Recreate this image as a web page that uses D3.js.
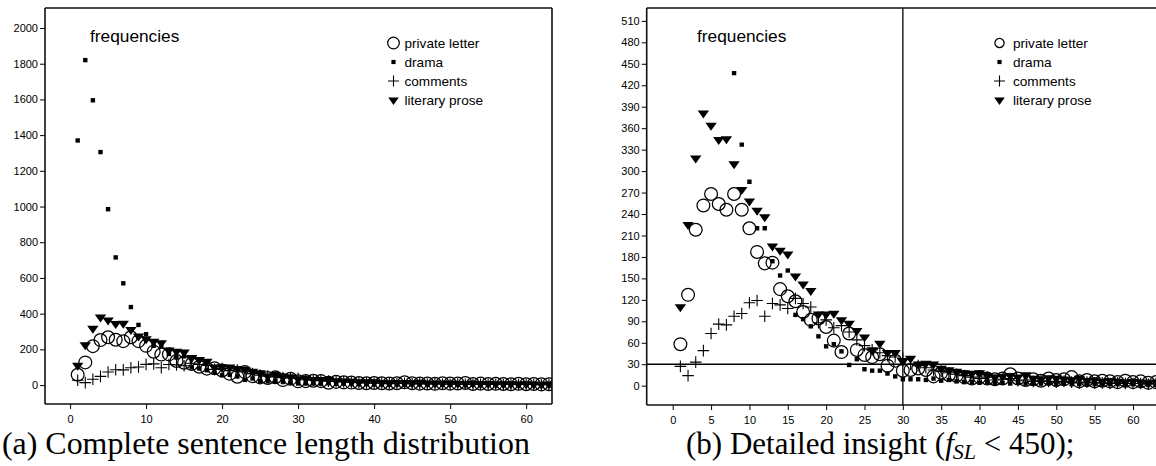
<!DOCTYPE html>
<html><head><meta charset="utf-8">
<script src="https://cdn.jsdelivr.net/npm/d3@7"></script>
<style>
html,body{margin:0;padding:0;background:#fff;}
svg{display:block;}
.tick text{font-family:"Liberation Sans",Arial,sans-serif;font-size:11px;fill:#000;}
</style></head>
<body>
<svg id="chart" width="1156" height="466"></svg>
<script>
// sentence lengths 1..65
const lengths = d3.range(1, 66);
const privateLetter = [58,127,218,252,268,254,246,268,246,220,187,171,172,135,125,118,103,92,94,82,63,47,73,50,43,40,44,28,35,21,22,24,22,13,
  18,15,14,12,10,12,10,9,10,16,10,8,9,7,10,8,9,12,6,8,6,7,6,5,7,5,6,4,5,4,4];
const drama = [1370,1820,1595,1305,985,715,570,437,337,285,220,220,174,154,161,99,93,83,69,55,58,48,29,37,23,21,21,17,13,9,9,9,8,10,
  7,8,6,5,5,4,5,4,4,3,4,3,3,3,3,2,3,2,2,2,2,2,2,2,1,2,1,1,1,1,1];
const comments = [27,14,33,49,73,86,85,97,101,116,119,97,115,113,108,122,115,110,88,92,81,84,75,64,56,50,46,42,40,38,30,28,25,22,
  20,18,16,14,12,10,12,8,9,10,7,8,6,7,6,5,6,5,4,5,4,4,3,4,3,3,3,2,3,2,2];
const literaryProse = [110,225,318,381,364,344,345,310,274,258,245,236,195,189,184,153,142,133,100,100,101,92,87,77,68,50,59,46,46,34,38,30,31,30,
  24,22,20,18,17,18,14,12,13,14,12,15,10,9,11,10,9,8,10,7,8,6,7,6,5,6,5,4,5,4,4];

const seriesNames = ["private letter","drama","comments","literary prose"];
const seriesKeys = ["circle","square","plus","triangle"];

const leftXTicks = [0,10,20,30,40,50,60];
const leftYTicks = [0,200,400,600,800,1000,1200,1400,1600,1800,2000];
const rightXTicks = [0,5,10,15,20,25,30,35,40,45,50,55,60];
const rightYTicks = d3.range(0, 511, 30);
const refLineX = 30, refLineY = 30;

const svg = d3.select("#chart");
const FONT = "'Liberation Sans', Arial, sans-serif";

function markerPath(kind, s) {
  if (kind === "circle") { const r = s; return `M${r},0A${r},${r} 0 1,1 ${-r},0A${r},${r} 0 1,1 ${r},0Z`; }
  if (kind === "square") { const h = s; return `M${-h},${-h}H${h}V${h}H${-h}Z`; }
  if (kind === "plus") { const h = s; return `M${-h},0H${h}M0,${-h}V${h}`; }
  if (kind === "triangle") { const w = s, hh = s*0.85; return `M${-w},${-hh*0.55}L${w},${-hh*0.55}L0,${hh*1.1}Z`; }
}
function markerStyle(sel, kind) {
  if (kind === "circle") sel.attr("fill","none").attr("stroke","#000").attr("stroke-width",1.25);
  else if (kind === "plus") sel.attr("fill","none").attr("stroke","#000").attr("stroke-width",1.1);
  else sel.attr("fill","#000").attr("stroke","none");
}
const sizes = {circle:6.4, square:2.2, plus:5.8, triangle:5.7};

function panel(cfg) {
  const x = d3.scaleLinear().domain(cfg.xDomain).range([cfg.left, cfg.right]);
  const y = d3.scaleLinear().domain(cfg.yDomain).range([cfg.bottom, cfg.top]);
  const g = svg.append("g");
  const clipId = "clip" + cfg.id;
  svg.append("clipPath").attr("id", clipId).append("rect")
    .attr("x", cfg.left).attr("y", cfg.top).attr("width", cfg.right - cfg.left).attr("height", cfg.bottom - cfg.top);

  // axes
  const xa = g.append("g").attr("transform", `translate(0,${cfg.bottom})`)
    .call(d3.axisBottom(x).tickValues(cfg.xTicks).tickSize(5).tickPadding(4).tickFormat(d3.format("d")));
  const ya = g.append("g").attr("transform", `translate(${cfg.left},0)`)
    .call(d3.axisLeft(y).tickValues(cfg.yTicks).tickSize(5).tickPadding(2).tickFormat(d3.format("d")));
  [xa, ya].forEach(a => { a.select(".domain").remove(); a.selectAll(".tick line").attr("stroke","#000").attr("stroke-width",1); });
  xa.selectAll("text").attr("dy","0.9em");

  // frame
  const fr = g.append("g").attr("stroke","#111").attr("stroke-width",1.6).attr("fill","none");
  fr.append("line").attr("x1",cfg.left).attr("x2",cfg.left).attr("y1",cfg.top).attr("y2",cfg.bottom);
  fr.append("line").attr("x1",cfg.left).attr("x2",cfg.right).attr("y1",cfg.bottom).attr("y2",cfg.bottom);
  fr.append("line").attr("x1",cfg.left).attr("x2",cfg.right).attr("y1",cfg.top).attr("y2",cfg.top);
  if (cfg.rightFrame) fr.append("line").attr("x1",cfg.right).attr("x2",cfg.right).attr("y1",cfg.top).attr("y2",cfg.bottom);

  // reference lines
  if (cfg.refLines) {
    const rl = g.append("g").attr("stroke","#000").attr("stroke-width",1.3);
    rl.append("line").attr("x1",x(refLineX)).attr("x2",x(refLineX)).attr("y1",cfg.top).attr("y2",cfg.bottom);
    rl.append("line").attr("x1",cfg.left).attr("x2",cfg.right).attr("y1",y(refLineY)).attr("y2",y(refLineY));
  }

  // data
  const all = [privateLetter, drama, comments, literaryProse];
  const dg = g.append("g").attr("clip-path", `url(#${clipId})`);
  all.forEach((vals, si) => {
    const kind = seriesKeys[si];
    const pts = lengths.map((l, i) => ({l, v: vals[i]})).filter(d => d.v <= cfg.yDomain[1] + 30);
    dg.append("g").selectAll("path").data(pts).join("path")
      .attr("transform", d => `translate(${x(d.l)},${y(d.v)})`)
      .attr("d", markerPath(kind, sizes[kind]))
      .call(markerStyle, kind);
  });

  // label
  g.append("text").attr("x", cfg.labelX).attr("y", 42).text("frequencies")
    .attr("font-family", FONT).attr("font-size", 17.3).attr("fill","#000");

  // legend
  const lg = g.append("g");
  seriesNames.forEach((n, i) => {
    const yy = 43 + i*19;
    const kind = seriesKeys[i];
    let s = sizes[kind];
    if (kind === "circle") s = cfg.legendCircle;
    if (kind === "square") s = 2.1;
    if (kind === "plus") s = 5.5;
    if (kind === "triangle") s = 5.3;
    lg.append("path").attr("transform", `translate(${cfg.legendX},${yy})`).attr("d", markerPath(kind, s)).call(markerStyle, kind);
    lg.append("text").attr("x", cfg.legendX + cfg.legendGap).attr("y", yy + 4.8).text(n)
      .attr("font-family", FONT).attr("font-size", 13.6).attr("fill","#000");
  });
  return {x, y};
}

panel({id:"a", left:45, right:552, top:8, bottom:404, xDomain:[-3.3, 63.4], yDomain:[-106, 2112],
  xTicks:leftXTicks, yTicks:leftYTicks, rightFrame:true, refLines:false, labelX:90,
  legendX:393.5, legendGap:11, legendCircle:5.8});
panel({id:"b", left:646.7, right:1156, top:8, bottom:405, xDomain:[-3.39, 63.0], yDomain:[-27, 528],
  xTicks:rightXTicks, yTicks:rightYTicks, rightFrame:false, refLines:true, labelX:697,
  legendX:999.5, legendGap:13.5, legendCircle:4.6});

// captions
const SERIF = "'Liberation Serif','Times New Roman',serif";
function fitFont(textSel, base, target) {
  const w = textSel.node().getComputedTextLength();
  return base * target / w;
}
const ca = svg.append("text").attr("x", 2).attr("y", 454).attr("font-family", SERIF).attr("font-size", 30).attr("fill","#000")
  .text("(a) Complete sentence length distribution");
ca.attr("font-size", fitFont(ca, 30, 528));

const cb = svg.append("text").attr("x", 686).attr("y", 454).attr("font-family", SERIF).attr("font-size", 31).attr("fill","#000");
cb.append("tspan").text("(b) Detailed insight (");
cb.append("tspan").attr("font-style","italic").text("f");
cb.append("tspan").attr("font-style","italic").attr("font-size", 22).attr("dy", 5).attr("dx", -1).text("SL");
cb.append("tspan").attr("dy", -5).text(" < 450);");
</script>
</body></html>
